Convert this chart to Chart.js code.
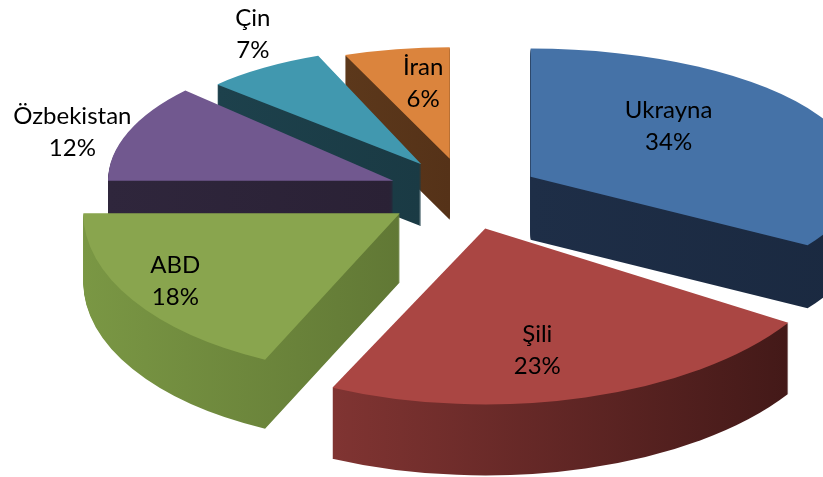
<!DOCTYPE html>
<html>
<head>
<meta charset="utf-8">
<script src="https://cdn.jsdelivr.net/npm/chart.js@4.4.0/dist/chart.umd.min.js"></script>
<style>
	html, body { margin: 0; padding: 0; background: #fff; }
	#wrap { width: 823px; height: 477px; }
</style>
</head>
<body>
<div id="wrap"><canvas id="myChart"></canvas></div>
<script>
// data
const countries = ['Ukrayna', 'Şili', 'ABD', 'Özbekistan', 'Çin', 'İran'];
const shares = [34, 23, 18, 12, 7, 6];

// styles
const TOP_COLORS = ['#4572A7', '#AA4643', '#89A54E', '#71588F', '#4198AF', '#DB843D'];
const WALL_COLORS = [
	['#1E2E47', '#1A2940'],
	['#803432', '#431918'],
	['#7A9744', '#617835'],
	['#2F263C', '#2A2135'],
	['#1D414C', '#1A3A44'],
	['#5C381B', '#553218']
];
// label centre as fraction of the slice radius along its middle (x, y)
const LABEL_POS = [[0.48, 0.82], [0.52, 0.72], [0.84, 0.78], [1.21, 0.99], [1.07, 1.35], [0.5, 0.69]];

// fake 3d view
const CX = 464, CY = 194;     // pie centre on screen
const RX = 321, RY = 144;     // ellipse radii
const EX = 76, EY = 36;       // explode distance
const DEPTH = 66;

const ctx = document.getElementById('myChart');

function sliceGeometry(chart) {
	const arcs = chart.getDatasetMeta(0).data;
	return arcs.map((arc, i) => {
		const m = (arc.startAngle + arc.endAngle) / 2;
		const c = Math.cos(m), s = Math.sin(m);
		// rough perspective: front slices bigger than back ones
		const rx = RX * (1 + 0.1 * s + 0.08 * c);
		const ry = RY * (1 + 0.23 * s);
		return {
			arc, i, c, s, rx, ry,
			ax: CX + c * EX,
			ay: CY + s * EY,
			depth: Math.round(DEPTH * (1 + 0.08 * s))
		};
	});
}

function drawSlice(g, sl, dy, fill) {
	const arc = sl.arc;
	const kx = sl.rx / arc.outerRadius, ky = sl.ry / arc.outerRadius;
	g.save();
	g.translate(sl.ax, sl.ay + dy);
	g.scale(kx, ky);
	g.translate(-arc.x, -arc.y);
	if (fill) {
		const el = Object.create(arc);
		el.options = Object.assign({}, arc.options, { backgroundColor: fill(g, arc), borderWidth: 0 });
		el.draw(g);
	} else {
		arc.draw(g);
	}
	g.restore();
}

const pie3d = {
	id: 'pie3d',
	beforeDatasetsDraw(chart) {
		const g = chart.ctx;
		const slices = sliceGeometry(chart);
		const maxDepth = Math.max(...slices.map(sl => sl.depth));

		// side walls, deepest layer first
		for (let d = maxDepth; d >= 1; d--) {
			slices.forEach(sl => {
				if (d > sl.depth) return;
				drawSlice(g, sl, d, (gg, arc) => {
					let lo = 0, hi = 0;
					for (let t = 0; t <= 24; t++) {
						const a = arc.startAngle + (arc.endAngle - arc.startAngle) * t / 24;
						lo = Math.min(lo, Math.cos(a));
						hi = Math.max(hi, Math.cos(a));
					}
					const grad = gg.createLinearGradient(arc.x + lo * arc.outerRadius, 0, arc.x + hi * arc.outerRadius, 0);
					grad.addColorStop(0, WALL_COLORS[sl.i][0]);
					grad.addColorStop(1, WALL_COLORS[sl.i][1]);
					return grad;
				});
			});
		}

		// top faces
		slices.forEach(sl => drawSlice(g, sl, 0));
		return false;
	},
	afterDraw(chart) {
		const g = chart.ctx;
		g.save();
		g.font = '24px Lato';
		g.fillStyle = '#000';
		g.textAlign = 'center';
		g.textBaseline = 'middle';
		sliceGeometry(chart).forEach(sl => {
			const [fx, fy] = LABEL_POS[sl.i];
			const x = sl.ax + sl.c * sl.rx * fx;
			const y = sl.ay + sl.s * sl.ry * fy;
			g.fillText(chart.data.labels[sl.i], x, y - 16);
			g.fillText(chart.data.datasets[0].data[sl.i] + '%', x, y + 16);
		});
		g.restore();
	}
};

new Chart(ctx, {
	type: 'pie',
	data: {
		labels: countries,
		datasets: [{
			data: shares,
			backgroundColor: TOP_COLORS,
			borderWidth: 0,
			offset: 0,
			hoverOffset: 0
		}]
	},
	options: {
		responsive: true,
		maintainAspectRatio: false,
		animation: false,
		events: [],
		layout: { padding: 0 },
		plugins: {
			legend: { display: false },
			tooltip: { enabled: false }
		}
	},
	plugins: [pie3d]
});
</script>
</body>
</html>
